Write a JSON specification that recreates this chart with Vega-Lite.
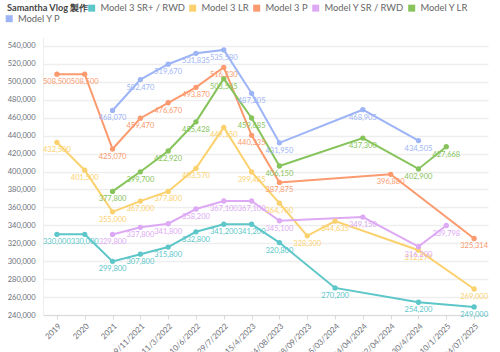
{
 "$schema": "https://vega.github.io/schema/vega-lite/v6.json",
 "width": 445, "height": 278,
 "autosize": {"type": "none"},
 "padding": {"left": 43, "top": 37, "right": 12, "bottom": 37},
 "config": {"font": "Lato", "view": {"stroke": null}},
 "data": {"values": [
  {"m":"Model 3 SR+ / RWD","d":"2019","v":330000},
  {"m":"Model 3 SR+ / RWD","d":"2020","v":330000},
  {"m":"Model 3 SR+ / RWD","d":"2021","v":299800},
  {"m":"Model 3 SR+ / RWD","d":"19/11/2021","v":307800},
  {"m":"Model 3 SR+ / RWD","d":"11/3/2022","v":315800},
  {"m":"Model 3 SR+ / RWD","d":"10/6/2022","v":332800},
  {"m":"Model 3 SR+ / RWD","d":"29/7/2022","v":341200},
  {"m":"Model 3 SR+ / RWD","d":"15/4/2023","v":341200},
  {"m":"Model 3 SR+ / RWD","d":"04/08/2023","v":320800},
  {"m":"Model 3 SR+ / RWD","d":"15/03/2024","v":270200},
  {"m":"Model 3 SR+ / RWD","d":"30/4/2024","v":254200},
  {"m":"Model 3 SR+ / RWD","d":"04/07/2025","v":249000},
  {"m":"Model 3 LR","d":"2019","v":432500},
  {"m":"Model 3 LR","d":"2020","v":401500},
  {"m":"Model 3 LR","d":"2021","v":355000},
  {"m":"Model 3 LR","d":"19/11/2021","v":367000},
  {"m":"Model 3 LR","d":"11/3/2022","v":377800},
  {"m":"Model 3 LR","d":"10/6/2022","v":403570},
  {"m":"Model 3 LR","d":"29/7/2022","v":449150},
  {"m":"Model 3 LR","d":"15/4/2023","v":399485},
  {"m":"Model 3 LR","d":"04/08/2023","v":364700},
  {"m":"Model 3 LR","d":"28/09/2023","v":328300},
  {"m":"Model 3 LR","d":"15/03/2024","v":344635},
  {"m":"Model 3 LR","d":"30/4/2024","v":312274},
  {"m":"Model 3 LR","d":"04/07/2025","v":269000},
  {"m":"Model 3 P","d":"2019","v":508500},
  {"m":"Model 3 P","d":"2020","v":508500},
  {"m":"Model 3 P","d":"2021","v":425070},
  {"m":"Model 3 P","d":"19/11/2021","v":459470},
  {"m":"Model 3 P","d":"11/3/2022","v":476670},
  {"m":"Model 3 P","d":"10/6/2022","v":493870},
  {"m":"Model 3 P","d":"29/7/2022","v":516230},
  {"m":"Model 3 P","d":"15/4/2023","v":440335},
  {"m":"Model 3 P","d":"04/08/2023","v":387875},
  {"m":"Model 3 P","d":"22/04/2024","v":396880},
  {"m":"Model 3 P","d":"04/07/2025","v":325314},
  {"m":"Model Y SR / RWD","d":"2021","v":329800},
  {"m":"Model Y SR / RWD","d":"19/11/2021","v":337800},
  {"m":"Model Y SR / RWD","d":"11/3/2022","v":341800},
  {"m":"Model Y SR / RWD","d":"10/6/2022","v":358200},
  {"m":"Model Y SR / RWD","d":"29/7/2022","v":367100},
  {"m":"Model Y SR / RWD","d":"15/4/2023","v":367100},
  {"m":"Model Y SR / RWD","d":"04/08/2023","v":345100},
  {"m":"Model Y SR / RWD","d":"04/04/2024","v":349150},
  {"m":"Model Y SR / RWD","d":"30/4/2024","v":316200},
  {"m":"Model Y SR / RWD","d":"10/1/2025","v":339798},
  {"m":"Model Y LR","d":"2021","v":377800},
  {"m":"Model Y LR","d":"19/11/2021","v":399700},
  {"m":"Model Y LR","d":"11/3/2022","v":422920},
  {"m":"Model Y LR","d":"10/6/2022","v":455428},
  {"m":"Model Y LR","d":"29/7/2022","v":503545},
  {"m":"Model Y LR","d":"15/4/2023","v":459685},
  {"m":"Model Y LR","d":"04/08/2023","v":406150},
  {"m":"Model Y LR","d":"04/04/2024","v":437300},
  {"m":"Model Y LR","d":"30/4/2024","v":402900},
  {"m":"Model Y LR","d":"10/1/2025","v":427668},
  {"m":"Model Y P","d":"2021","v":468070},
  {"m":"Model Y P","d":"19/11/2021","v":502470},
  {"m":"Model Y P","d":"11/3/2022","v":519670},
  {"m":"Model Y P","d":"10/6/2022","v":531835},
  {"m":"Model Y P","d":"29/7/2022","v":535580},
  {"m":"Model Y P","d":"15/4/2023","v":487205},
  {"m":"Model Y P","d":"04/08/2023","v":431950},
  {"m":"Model Y P","d":"04/04/2024","v":468905},
  {"m":"Model Y P","d":"30/4/2024","v":434505}
 ]},
 "encoding": {
  "x": {"field": "d", "type": "ordinal",
   "scale": {"type": "point", "padding": 0.5, "domain": ["2019","2020","2021","19/11/2021","11/3/2022","10/6/2022","29/7/2022","15/4/2023","04/08/2023","28/09/2023","15/03/2024","04/04/2024","22/04/2024","30/4/2024","10/1/2025","04/07/2025"]},
   "axis": {"title": null, "labelAngle": -45, "domainColor": "#d9d9d9", "tickColor": "#d9d9d9", "tickSize": 4, "grid": false, "labelColor": "#6e7079", "labelFontSize": 8, "labelPadding": 3}},
  "y": {"field": "v", "type": "quantitative",
   "scale": {"domain": [240000, 550000], "nice": false, "zero": false},
   "axis": {"title": null, "values": [240000,260000,280000,300000,320000,340000,360000,380000,400000,420000,440000,460000,480000,500000,520000,540000], "format": ",d", "ticks": false, "domainColor": "#eeeeee", "gridColor": "#eeeeee", "gridWidth": 1.5, "labelColor": "#6e7079", "labelFontSize": 7.5, "labelPadding": 8}}
 },
 "layer": [
  {
   "transform": [{"filter": "datum.m !== 'Model Y P'"}],
   "encoding": {"color": {"field": "m", "type": "nominal",
     "scale": {"domain": ["Model 3 SR+ / RWD","Model 3 LR","Model 3 P","Model Y SR / RWD","Model Y LR"], "range": ["#5cc6c9","#fbd16e","#fa9a6e","#dda9f4","#86c45b"]},
     "legend": {"orient": "none", "legendX": -36, "legendY": -34, "direction": "horizontal", "title": "Samantha Vlog 製作", "titleOrient": "left", "titleFontWeight": "bold", "titleFontSize": 9.2, "titleColor": "#464646", "titlePadding": -2, "symbolType": "square", "symbolSize": 49, "symbolStrokeWidth": 0, "labelFontSize": 9.4, "labelColor": "#666666", "labelOffset": 4, "columnPadding": 3}}},
   "layer": [
    {"mark": {"type": "line", "strokeWidth": 2}},
    {"mark": {"type": "point", "filled": true, "size": 28, "opacity": 1}},
    {"mark": {"type": "text", "dy": 8, "fontSize": 7.5, "baseline": "middle"}, "encoding": {"text": {"field": "v", "type": "quantitative", "format": ","}}}
   ]
  },
  {
   "transform": [{"filter": "datum.m === 'Model Y P'"}],
   "encoding": {"color": {"field": "m", "type": "nominal",
     "scale": {"domain": ["Model Y P"], "range": ["#9db4f6"]},
     "legend": {"orient": "none", "legendX": -38.5, "legendY": -23, "title": null, "symbolType": "square", "symbolSize": 49, "symbolStrokeWidth": 0, "labelFontSize": 9.4, "labelColor": "#666666", "labelOffset": 4}}},
   "layer": [
    {"mark": {"type": "line", "strokeWidth": 2}},
    {"mark": {"type": "point", "filled": true, "size": 28, "opacity": 1}},
    {"mark": {"type": "text", "dy": 8, "fontSize": 7.5, "baseline": "middle"}, "encoding": {"text": {"field": "v", "type": "quantitative", "format": ","}}}
   ]
  }
 ],
 "resolve": {"scale": {"color": "independent"}}
}
